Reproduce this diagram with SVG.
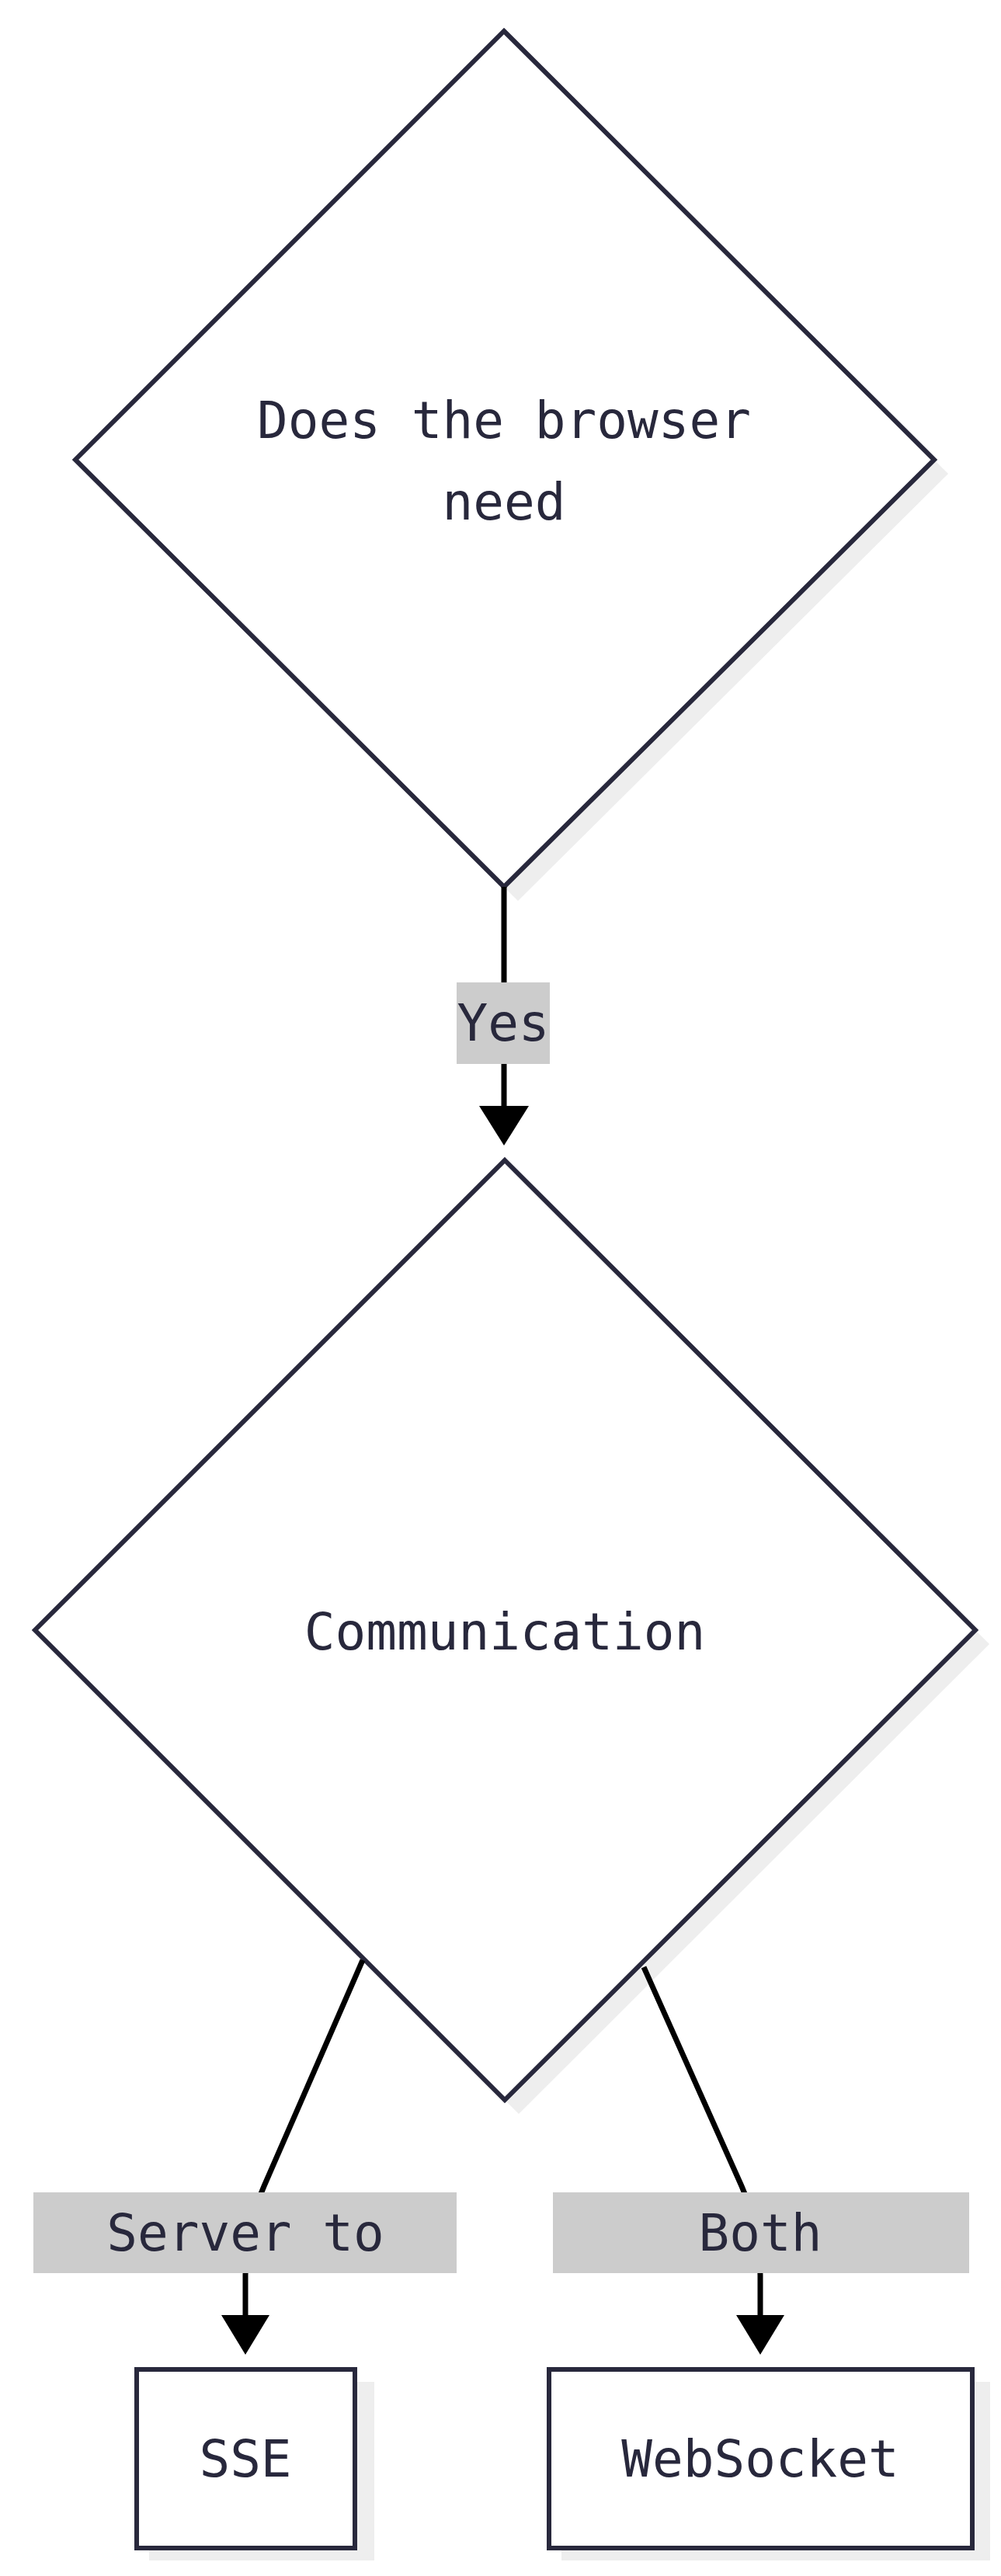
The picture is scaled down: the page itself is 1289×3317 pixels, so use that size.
<svg xmlns="http://www.w3.org/2000/svg" width="1289" height="3317" viewBox="0 0 1289 3317">
<defs>
<style>
.node{fill:#fff;stroke:#28283c;stroke-width:6}
.shadow{fill:#eeeeee}
.t{font-family:"DejaVu Sans Mono",monospace;font-size:66px;fill:#28283c;text-anchor:middle}
.lbl{fill:#cccccc}
.e{fill:none;stroke:#000;stroke-width:7}
.ah{fill:#000}
</style>
</defs>
<rect width="1289" height="3317" fill="#fff"/>
<g id="n1">
<polygon class="shadow" points="667,58 1221,610 667,1160 113,610"/>
<polygon class="node" points="649,40 1203,592 649,1142 97,592"/>
<text class="t" x="649" y="564">Does the browser</text>
<text class="t" x="649" y="669">need</text>
</g>
<g id="n2">
<polygon class="shadow" points="668,1512 1274,2117 668,2722 63,2117"/>
<polygon class="node" points="650,1494 1256,2099 650,2704 45,2099"/>
<text class="t" x="650" y="2124">Communication</text>
</g>
<g id="n3">
<rect class="shadow" x="192" y="3067" width="290" height="230"/>
<rect class="node" x="176" y="3051" width="281" height="230"/>
<text class="t" x="316" y="3189">SSE</text>
</g>
<g id="n4">
<rect class="shadow" x="723" y="3067" width="552" height="230"/>
<rect class="node" x="707" y="3051" width="545" height="230"/>
<text class="t" x="979" y="3189">WebSocket</text>
</g>
<g id="edges">
<path class="e" d="M649,1142 L649,1430"/>
<polygon class="ah" points="617,1424 681,1424 649,1475"/>
<path class="e" d="M467,2524 L340,2815 Q316,2870 316,2930 L316,2985"/>
<polygon class="ah" points="285,2981 347,2981 316,3032"/>
<path class="e" d="M829,2533 L955,2815 Q979,2870 979,2930 L979,2985"/>
<polygon class="ah" points="948,2981 1010,2981 979,3032"/>
</g>
<g id="labels">
<rect class="lbl" x="588" y="1265" width="120" height="105"/>
<text class="t" x="648" y="1340">Yes</text>
<rect class="lbl" x="43" y="2823" width="545" height="104"/>
<text class="t" x="316" y="2898">Server to</text>
<rect class="lbl" x="712" y="2823" width="536" height="104"/>
<text class="t" x="979" y="2898">Both</text>
</g>
</svg>
